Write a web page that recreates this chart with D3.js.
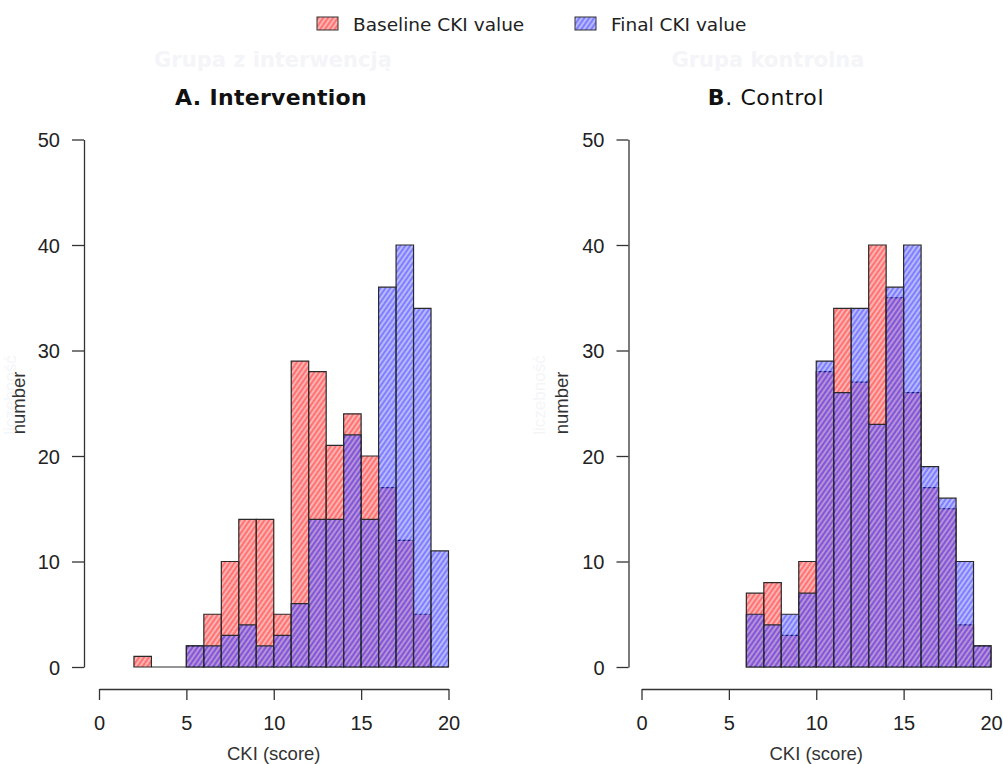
<!DOCTYPE html>
<html>
<head>
<meta charset="utf-8">
<script src="https://cdn.jsdelivr.net/npm/d3@7"></script>
<style>
  body { margin: 0; background: #fff; }
  svg { display: block; }
</style>
</head>
<body>
<svg id="chart" width="1003" height="764"></svg>
<script>
// Histogram counts, one value per bin of width 1
const binWidth = 1;
const edgesBaseA = [2, 3, 4, 5, 6, 7, 8, 9, 10, 11, 12, 13, 14, 15, 16, 17, 18, 19];
const countsBaseA = [1, 0, 0, 2, 5, 10, 14, 14, 5, 29, 28, 21, 24, 20, 17, 12, 5, 0];
const edgesFinalA = [5, 6, 7, 8, 9, 10, 11, 12, 13, 14, 15, 16, 17, 18, 19];
const countsFinalA = [2, 2, 3, 4, 2, 3, 6, 14, 14, 22, 14, 36, 40, 34, 11];
const edgesB = [6, 7, 8, 9, 10, 11, 12, 13, 14, 15, 16, 17, 18, 19];
const countsBaseB = [7, 8, 3, 10, 28, 34, 27, 40, 35, 26, 17, 15, 4, 2];
const countsFinalB = [5, 4, 5, 7, 29, 26, 34, 23, 36, 40, 19, 16, 10, 2];

const xTicks = [0, 5, 10, 15, 20];
const yTicks = [0, 10, 20, 30, 40, 50];
const seriesNames = ['Baseline CKI value', 'Final CKI value'];
const xLabel = 'CKI (score)';
const yLabel = 'number';

const svg = d3.select('#chart');
const tickFont = '"Liberation Sans", Arial, sans-serif';
const titleFont = '"DejaVu Sans", Verdana, sans-serif';

// Hatched fills: translucent colour with light diagonal stripes
const defs = svg.append('defs');
const makePattern = (id, colour, opacity, offset) => {
  const p = defs.append('pattern')
    .attr('id', id)
    .attr('patternUnits', 'userSpaceOnUse')
    .attr('width', 4)
    .attr('height', 4)
    .attr('patternTransform', 'rotate(35)');
  p.append('rect')
    .attr('width', 4).attr('height', 4)
    .attr('fill', colour).attr('fill-opacity', opacity);
  p.append('line')
    .attr('x1', offset).attr('x2', offset)
    .attr('y1', 0).attr('y2', 4)
    .attr('stroke', '#fff').attr('stroke-width', 1.2)
    .attr('stroke-opacity', 0.75);
};
makePattern('hatchRed', 'rgb(255,0,0)', 0.55, 1);
makePattern('hatchBlue', 'rgb(0,0,255)', 0.5, 3);

const panels = [
  {
    range: [99, 448.5], yAxisX: 84, labelX: 25, ghostX: 16,
    titleX: 271, ghostTitle: 'Grupa z interwencją',
    title: [{ t: 'A. Intervention', bold: true }],
    baseEdges: edgesBaseA, base: countsBaseA,
    finalEdges: edgesFinalA, final: countsFinalA
  },
  {
    range: [641.5, 991], yAxisX: 628.5, labelX: 568, ghostX: 545,
    titleX: 766, ghostTitle: 'Grupa kontrolna',
    title: [{ t: 'B', bold: true }, { t: '. Control', bold: false }],
    baseEdges: edgesB, base: countsBaseB,
    finalEdges: edgesB, final: countsFinalB
  }
];

const y = d3.scaleLinear().domain([0, 50]).range([667, 139.5]);
const xAxisY = 689;

panels.forEach(panel => {
  const x = d3.scaleLinear().domain([0, 20]).range(panel.range);
  const g = svg.append('g');

  // zero-height bins still show as a line along the bottom, as in R
  const barPath = (x0, v) =>
    `M${x(x0)},${y(0)}V${y(v)}H${x(x0 + binWidth)}V${y(0)}Z`;

  const drawBars = (edges, counts, fill) => {
    g.append('g').selectAll('path')
      .data(edges.map((e, i) => ({ e, v: counts[i] })))
      .join('path')
      .attr('d', d => barPath(d.e, d.v))
      .attr('fill', fill)
      .attr('stroke', '#2a2a2a')
      .attr('stroke-width', 1.2)
      .attr('stroke-linejoin', 'miter');
  };
  drawBars(panel.baseEdges, panel.base, 'url(#hatchRed)');
  drawBars(panel.finalEdges, panel.final, 'url(#hatchBlue)');

  // Axes
  const yAxis = g.append('g')
    .attr('transform', `translate(${panel.yAxisX},0)`)
    .call(d3.axisLeft(y).tickValues(yTicks).tickSize(12).tickSizeOuter(0).tickPadding(12));
  const xAxis = g.append('g')
    .attr('transform', `translate(0,${xAxisY})`)
    .call(d3.axisBottom(x).tickValues(xTicks).tickSize(11).tickSizeOuter(0).tickPadding(16));
  [yAxis, xAxis].forEach(a => {
    a.attr('font-family', tickFont).attr('font-size', 20);
    a.selectAll('path, line').attr('stroke', '#333').attr('stroke-width', 1.3);
    a.selectAll('text').attr('fill', '#222');
  });
  yAxis.selectAll('text').attr('dy', '0.36em');

  // Axis titles
  g.append('text')
    .attr('x', x(10)).attr('y', 760)
    .attr('text-anchor', 'middle')
    .attr('font-family', tickFont).attr('font-size', 18.5)
    .attr('fill', '#333')
    .text(xLabel);
  // faint leftover label underneath
  g.append('text')
    .attr('transform', `translate(${panel.ghostX},395) rotate(-90)`)
    .attr('text-anchor', 'middle')
    .attr('font-family', tickFont).attr('font-size', 17)
    .attr('fill', '#f4f5f7')
    .text('liczebność');
  g.append('text')
    .attr('transform', `translate(${panel.labelX},403) rotate(-90)`)
    .attr('text-anchor', 'middle')
    .attr('font-family', tickFont).attr('font-size', 18.5)
    .attr('fill', '#333')
    .text(yLabel);

  // Titles
  g.append('text')
    .attr('x', panel.titleX + 2).attr('y', 67)
    .attr('text-anchor', 'middle')
    .attr('font-family', titleFont).attr('font-size', 21)
    .attr('font-weight', 'bold')
    .attr('fill', '#f4f5f8')
    .text(panel.ghostTitle);
  const title = g.append('text')
    .attr('x', panel.titleX).attr('y', 105)
    .attr('text-anchor', 'middle')
    .attr('font-family', titleFont).attr('font-size', 22)
    .attr('fill', '#111');
  title.selectAll('tspan')
    .data(panel.title)
    .join('tspan')
    .attr('font-weight', d => d.bold ? 'bold' : 'normal')
    .attr('letter-spacing', panel.title.length > 1 ? 0.6 : 0.3)
    .text(d => d.t);
});

// Legend
const legend = svg.append('g');
const legendItems = [
  { name: seriesNames[0], fill: 'url(#hatchRed)', x: 317 },
  { name: seriesNames[1], fill: 'url(#hatchBlue)', x: 575 }
];
legendItems.forEach(item => {
  legend.append('rect')
    .attr('x', item.x).attr('y', 17)
    .attr('width', 21).attr('height', 13)
    .attr('fill', item.fill)
    .attr('stroke', '#333').attr('stroke-width', 1);
  legend.append('text')
    .attr('x', item.x + 36).attr('y', 31)
    .attr('font-family', titleFont).attr('font-size', 18.5)
    .attr('fill', '#222')
    .text(item.name);
});
</script>
</body>
</html>
